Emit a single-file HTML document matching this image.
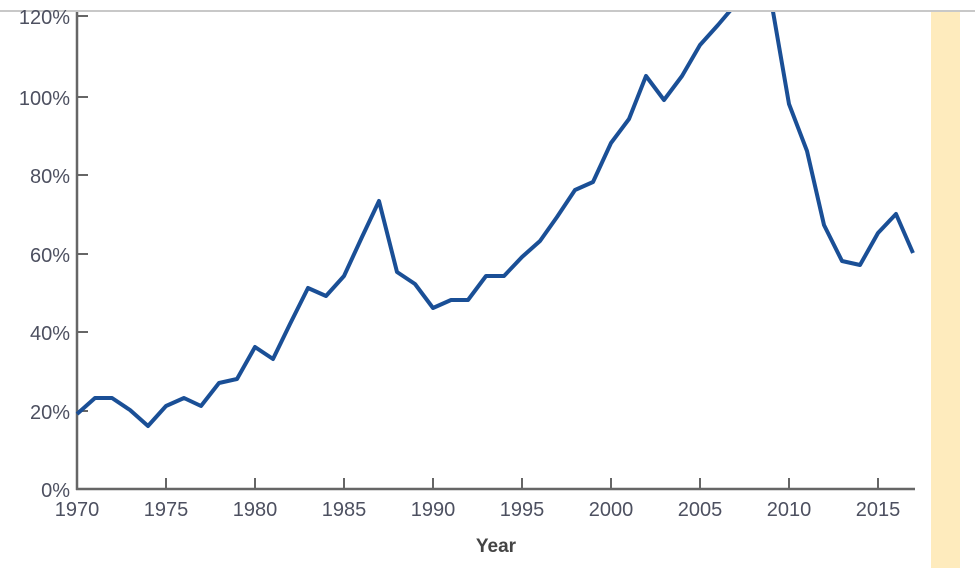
<!DOCTYPE html>
<html><head><style>body{margin:0;background:#fff}svg{display:block}</style></head><body>
<svg width="975" height="568" xmlns="http://www.w3.org/2000/svg" font-family="Liberation Sans, sans-serif">
<rect x="931" y="12" width="29" height="556" fill="#feebbd"/>
<line x1="0" y1="11" x2="975" y2="11" stroke="#c8c8c8" stroke-width="2"/>
<defs><clipPath id="c"><rect x="70" y="12" width="900" height="560"/></clipPath></defs>
<g stroke="#666" stroke-width="2.5">
<line x1="77" y1="12" x2="77" y2="490"/>
<line x1="76" y1="489" x2="915" y2="489"/>
</g>
<g stroke="#666" stroke-width="2">
<line x1="77" y1="16" x2="88" y2="16"/><line x1="77" y1="97" x2="88" y2="97"/>
<line x1="77" y1="175" x2="88" y2="175"/><line x1="77" y1="254" x2="88" y2="254"/>
<line x1="77" y1="332" x2="88" y2="332"/><line x1="77" y1="411" x2="88" y2="411"/>
<line x1="166" y1="478" x2="166" y2="489"/><line x1="255" y1="478" x2="255" y2="489"/>
<line x1="344" y1="478" x2="344" y2="489"/><line x1="433" y1="478" x2="433" y2="489"/>
<line x1="522" y1="478" x2="522" y2="489"/><line x1="611" y1="478" x2="611" y2="489"/>
<line x1="700" y1="478" x2="700" y2="489"/><line x1="789" y1="478" x2="789" y2="489"/>
<line x1="878" y1="478" x2="878" y2="489"/>
</g>
<g fill="#4d5060" font-size="20" text-anchor="end">
<text x="70" y="24">120%</text><text x="70" y="105">100%</text><text x="70" y="183">80%</text>
<text x="70" y="262">60%</text><text x="70" y="340">40%</text><text x="70" y="419">20%</text>
<text x="70" y="497">0%</text>
</g>
<g fill="#4d5060" font-size="20" text-anchor="middle">
<text x="77" y="516">1970</text><text x="166" y="516">1975</text><text x="255" y="516">1980</text>
<text x="344" y="516">1985</text><text x="433" y="516">1990</text><text x="522" y="516">1995</text>
<text x="611" y="516">2000</text><text x="700" y="516">2005</text><text x="789" y="516">2010</text>
<text x="878" y="516">2015</text>
</g>
<text x="496" y="552" font-size="19" font-weight="bold" fill="#444" text-anchor="middle">Year</text>
<polyline clip-path="url(#c)" fill="none" stroke="#1a4f96" stroke-width="4" stroke-linejoin="round" points="77,414 95,398 112,398 130,410 148,426 166,406 184,398 201,406 219,383 237,379 255,347 273,359 290,324 308,288 326,296 344,276 362,237 379,201 397,272 415,284 433,308 451,300 468,300 486,276 504,276 522,257 540,241 557,217 575,190 593,182 611,143 629,119 646,76 664,100 682,76 700,45 718,25 735,5 753,-20 771,0 789,104 807,151 824,225 842,261 860,265 878,233 896,214 913,253"/>
</svg>
</body></html>
